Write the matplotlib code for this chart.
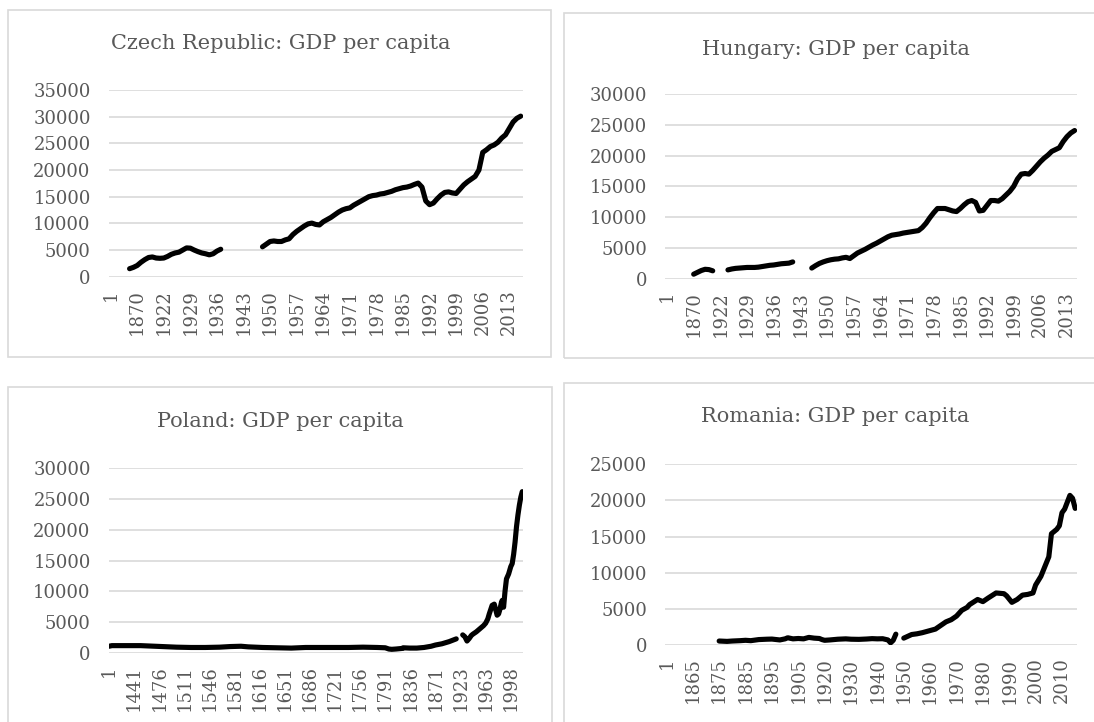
import numpy as np
import matplotlib
matplotlib.use("Agg")
import matplotlib.pyplot as plt
from matplotlib.patches import Rectangle

plt.rcParams['font.family'] = ['DejaVu Serif']

W, H = 1094, 722

# ---- categories (Excel category axes) and series values ----
cz_cats = ["1", "1000", "1500", "1600", "1700", "1820", "1850", "1870", "1890", "1900",
           "1910", "1913", "1920", "1921"] + [str(y) for y in range(1922, 2017)]
cz_years = [1820, 1850, 1870, 1890, 1900, 1910, 1913, 1920, 1921] + list(range(1922, 1939)) \
    + list(range(1948, 2017))
cz_gdp = [1500, 1750, 2100, 2700, 3200, 3600, 3700, 3500, 3450,
          # 1922-1938
          3500, 3800, 4200, 4450, 4600, 5000, 5400, 5350, 5000, 4700, 4450, 4300, 4100,
          4300, 4800, 5150, None,
          # 1948-2016
          5600, 6100, 6600, 6700, 6600, 6600, 6900, 7100, 7900, 8500,
          9000, 9500, 9900, 10050, 9800, 9700, 10300, 10700, 11100, 11600,
          12100, 12500, 12750, 12900, 13400, 13800, 14200, 14600, 15000, 15200,
          15300, 15500, 15600, 15800, 16000, 16300, 16500, 16700, 16800, 17000,
          17300, 17550, 16800, 14200, 13500, 13800, 14600, 15300, 15800, 15900,
          15700, 15600, 16400, 17200, 17800, 18300, 18800, 20000, 23300, 23800,
          24400, 24700, 25200, 26000, 26600, 27800, 29000, 29700, 30100]

hu_cats = ["1", "1000", "1500", "1600", "1700", "1820", "1850", "1870", "1890", "1900",
           "1910", "1913", "1920", "1921"] + [str(y) for y in range(1922, 2016)]
hu_years = [1870, 1890, 1900, 1910, 1913, 1920, 1921] + list(range(1924, 1943)) \
    + list(range(1946, 2016))
hu_gdp = [700, 1000, 1300, 1500, 1450, 1250, None,
          # 1924-1942
          1400, 1550, 1650, 1700, 1750, 1800, 1800, 1800, 1850, 1950,
          2050, 2150, 2200, 2300, 2400, 2450, 2500, 2700, None,
          # 1946-2015
          1700, 2100, 2450, 2700, 2900, 3050, 3150, 3200, 3350, 3450,
          3250, 3700, 4150, 4450, 4750, 5100, 5450, 5750, 6100, 6450,
          6800, 7050, 7150, 7250, 7400, 7500, 7600, 7700, 7800, 8300,
          9000, 9900, 10700, 11400, 11400, 11400, 11200, 11000, 10900, 11400,
          12000, 12500, 12700, 12400, 11000, 11100, 11900, 12700, 12700, 12600,
          13000, 13600, 14200, 15000, 16200, 17000, 17100, 17000, 17600, 18300,
          19000, 19600, 20100, 20700, 21000, 21300, 22300, 23100, 23700, 24100]

pl_cats = ["1"] + [str(y) for y in range(1407, 1816)] + [str(y) for y in range(1826, 1901)] \
    + ["1910", "1913", "1920", "1921", "1922"] + [str(y) for y in range(1923, 1940)] \
    + [str(y) for y in range(1945, 2015)]
pl_years = [1, 1410, 1430, 1450, 1470, 1490, 1500, 1520, 1540, 1560, 1575, 1590, 1600,
            1620, 1640, 1660, 1680, 1700, 1720, 1740, 1760, 1780, 1791, 1796, 1800, 1806,
            1815, 1826, 1835, 1845, 1855, 1865, 1871, 1880, 1890, 1900, 1910,
            1926, 1929, 1932, 1935, 1938, 1939, 1945, 1950, 1955, 1960, 1963, 1966, 1968,
            1970, 1972, 1975, 1977, 1979, 1981, 1983, 1985, 1986, 1988, 1990, 1992, 1995,
            1998, 2000, 2002, 2004, 2006, 2008, 2010, 2012, 2014]
pl_gdp = [1050, 1150, 1150, 1150, 1050, 950, 900, 850, 850, 900, 1000, 1050, 950,
          850, 800, 750, 850, 850, 850, 850, 900, 850, 800, 600, 550, 600,
          700, 800, 750, 750, 850, 1050, 1250, 1450, 1800, 2250, None,
          2900, 2600, 1900, 2300, 2800, 2900, 3000, 3400, 3900, 4400, 4800, 5500, 6300,
          7000, 7700, 7900, 7000, 6100, 6300, 7100, 8200, 8500, 7400, 10000, 12000, 12800,
          14000, 14500, 16000, 18000, 20500, 22400, 24000, 25300, 26200]

ro_cats = ["1"] + [str(y) for y in range(1856, 1915)] + [str(y) for y in range(1920, 2016)]
ro_years = [1875, 1878, 1880, 1883, 1885, 1887, 1890, 1893, 1895, 1898, 1900, 1901, 1903,
            1905, 1907, 1909, 1911, 1913, 1914, 1920, 1922, 1925, 1928, 1930, 1933, 1936,
            1938, 1940, 1942, 1944, 1945, 1946, 1947, 1948,
            1950, 1953, 1955, 1957, 1960, 1962, 1964, 1966, 1968, 1970, 1972, 1974, 1975,
            1978, 1980, 1982, 1985, 1988, 1989, 1991, 1993, 1995, 1997, 1999, 2000, 2002,
            2003, 2005, 2006, 2008, 2009, 2010, 2011, 2013, 2014, 2015]
ro_gdp = [550, 500, 550, 600, 650, 600, 750, 800, 820, 700, 850, 1000, 850,
          900, 850, 1050, 950, 900, 750, 650, 700, 800, 850, 800, 780, 830,
          880, 850, 870, 700, 300, 650, 1500, None,
          950, 1450, 1550, 1700, 2000, 2200, 2700, 3200, 3500, 4000, 4800, 5200, 5600,
          6300, 6000, 6500, 7200, 7100, 6800, 5900, 6300, 6900, 7000, 7200, 8300, 9500,
          10400, 12200, 15400, 16000, 16500, 18300, 18800, 20700, 20300, 18900]

charts = [
    # title, cats, years, values, ymax, label step, plot box px (l, t, r, b), panel px, title px
    ("Czech Republic: GDP per capita", cz_cats, cz_years, cz_gdp, 35000, 7,
     (108.7, 90.0, 522.6, 276.7), (7.7, 10.0, 550.5, 356.7), (280.6, 43.3)),
    ("Hungary: GDP per capita", hu_cats, hu_years, hu_gdp, 30000, 7,
     (665.1, 94.3, 1076.5, 278.5), (564.3, 13.3, 1100, 358.3), (835.6, 49.3)),
    ("Poland: GDP per capita", pl_cats, pl_years, pl_gdp, 30000, 35,
     (108.7, 468.3, 522.6, 652.7), (7.7, 386.7, 552.0, 730), (280.6, 421.7)),
    ("Romania: GDP per capita", ro_cats, ro_years, ro_gdp, 25000, 10,
     (665.1, 464.3, 1076.5, 645.0), (564.3, 383.3, 1100, 730), (835.6, 416.7)),
]

GREY_TXT = "#595959"
GRID = "#d9d9d9"

fig = plt.figure(figsize=(W / 100, H / 100), dpi=100)
fig.patch.set_facecolor("white")

for title, cats, years, vals, ymax, step, box, panel, tpos in charts:
    # chart area border
    pl, pt, pr, pb = panel
    fig.add_artist(Rectangle((pl / W, 1 - pb / H), (pr - pl) / W, (pb - pt) / H,
                             transform=fig.transFigure, fill=False,
                             edgecolor=GRID, lw=1.2))

    l, t, r, b = box
    ax = fig.add_axes([l / W, 1 - b / H, (r - l) / W, (b - t) / H])
    n = len(cats)
    x = [cats.index(str(y)) for y in years]
    y = np.array([np.nan if v is None else v for v in vals], dtype=float)
    ax.plot(x, y, color="black", lw=3.7, solid_capstyle="round",
            solid_joinstyle="round", zorder=3)

    ax.set_xlim(-0.5, n - 0.5)
    ax.set_ylim(0, ymax)
    ax.set_yticks(range(0, ymax + 1, 5000))
    ticks = list(range(0, n, step))
    ax.set_xticks(ticks)
    ax.set_xticklabels([cats[i] for i in ticks], rotation=90)
    ax.tick_params(axis="both", length=0, colors=GREY_TXT, labelsize=13)
    ax.tick_params(axis="x", pad=9)
    ax.tick_params(axis="y", pad=13)
    ax.grid(axis="y", color=GRID, lw=1.2)
    ax.set_axisbelow(True)
    for s in ax.spines.values():
        s.set_visible(False)

    fig.text(tpos[0] / W, 1 - tpos[1] / H, title, ha="center", va="center",
             fontsize=15, color=GREY_TXT)

fig.savefig("out.png", dpi=100, facecolor="white")
